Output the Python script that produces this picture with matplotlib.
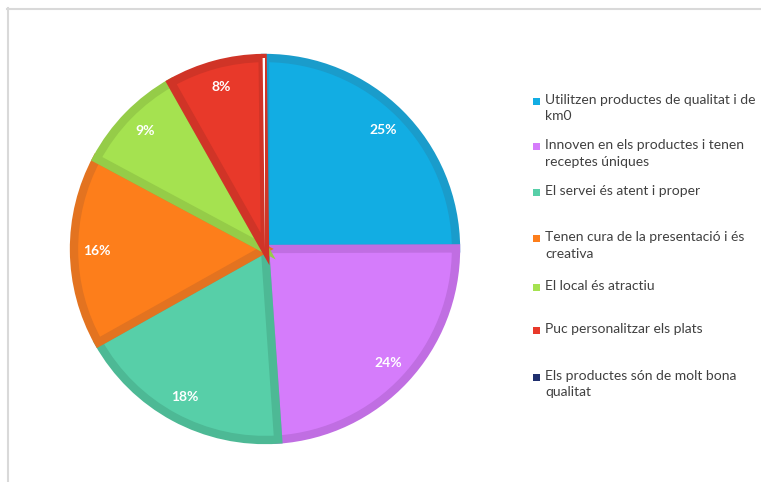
import numpy as np
import matplotlib.pyplot as plt
from matplotlib.lines import Line2D
from matplotlib.patches import Rectangle

labels = [
    "Utilitzen productes de qualitat i de\nkm0",
    "Innoven en els productes i tenen\nreceptes úniques",
    "El servei és atent i proper",
    "Tenen cura de la presentació i és\ncreativa",
    "El local és atractiu",
    "Puc personalitzar els plats",
    "Els productes són de molt bona\nqualitat",
]
values = [25, 24, 18, 16, 9, 8, 0.2]
colors = ["#12ADE3", "#D57CFB", "#57CFA8", "#FD7E1B", "#A5E250", "#E8392A", "#1F2F6E"]
edges = ["#1A9CCB", "#C06EE2", "#4DB995", "#E37320", "#95CC48", "#D03427", "#1F2F6E"]
legend_y = [101, 146, 192, 238, 287, 330, 377]

W, H = 761, 482
fig = plt.figure(figsize=(W / 100, H / 100), dpi=100)

# frame lines
fig.add_artist(Line2D([7.5 / W, 7.5 / W], [0, 1 - 8 / H], transform=fig.transFigure,
                      color="#D9D9D9", lw=1.5))
fig.add_artist(Line2D([7 / W, 1], [1 - 8.5 / H, 1 - 8.5 / H], transform=fig.transFigure,
                      color="#D9D9D9", lw=1.5))

cx, cy, r = 265, 249, 191
ax = fig.add_axes([(cx - r) / W, (H - cy - r) / H, 2 * r / W, 2 * r / H])
wedges, _ = ax.pie(values, colors=colors, startangle=90, counterclock=False,
                   radius=1, wedgeprops=dict(linewidth=0))
for i, w in enumerate(wedges):
    if i == len(wedges) - 1:
        w.set_facecolor("white")
        continue
    w.set_edgecolor(edges[i])
    w.set_linewidth(6)
    w.set_clip_path(w)

# percentage labels
total = sum(values)
ang = 90.0
for v in values[:-1]:
    mid = ang - v / total * 360 / 2
    ang -= v / total * 360
    ax.text(0.88 * np.cos(np.radians(mid)), 0.88 * np.sin(np.radians(mid)), f"{v:.0f}%",
            ha="center", va="center", color="white", fontsize=10, fontweight="bold",
            family="Lato")
ax.set_xlim(-1.0, 1.0)
ax.set_ylim(-1.0, 1.0)
ax.set_aspect("auto")
ax.axis("off")

# legend
for lab, col, y in zip(labels, colors, legend_y):
    fig.add_artist(Rectangle((533 / W, 1 - (y + 4) / H), 7 / W, 7 / H,
                             transform=fig.transFigure, facecolor=col, edgecolor="none"))
    fig.text(545 / W, 1 - (y - 7) / H, lab, ha="left", va="top", fontsize=10,
             color="#404040", family="Lato", linespacing=1.45)

fig.savefig("out.png", dpi=100)
